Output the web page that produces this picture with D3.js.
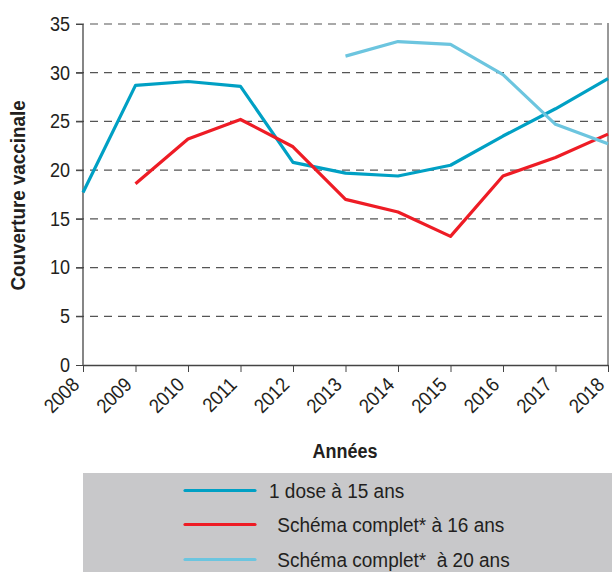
<!DOCTYPE html>
<html>
  <head>
    <meta charset="utf-8">
    <script src="https://d3js.org/d3.v7.min.js"></script>
    <style>
      body { margin: 0; background: #fff; }
      text { font-family: "Liberation Sans", Arial, sans-serif; fill: #231f20; }
    </style>
  </head>
  <body>
    <div id="chart"></div>
  <script>
    var width = 612,
        height = 572;

    var years = [2008, 2009, 2010, 2011, 2012, 2013, 2014, 2015, 2016, 2017, 2018];
    var yTicks = [0, 5, 10, 15, 20, 25, 30, 35];

    // null = pas de donnée
    var dose15 = [17.7, 28.7, 29.1, 28.6, 20.8, 19.7, 19.4, 20.5, 23.5, 26.3, 29.4];
    var complet16 = [null, 18.6, 23.2, 25.2, 22.4, 17.0, 15.7, 13.2, 19.4, 21.3, 23.7];
    var complet20 = [null, null, null, null, null, 31.7, 33.2, 32.9, 29.8, 24.7, 22.7];

    var seriesNames = ["1 dose à 15 ans", " Schéma complet* à 16 ans", " Schéma complet*  à 20 ans"];
    var seriesColors = ["#00a0c4", "#ee1c25", "#6cc5df"];
    var seriesValues = [dose15, complet16, complet20];

    var margin = {left: 83, right: 4, top: 24, bottom: 207};

    var svg = d3.select("#chart").append("svg")
        .attr("width", width)
        .attr("height", height);

    var x = d3.scaleLinear()
        .domain([2008, 2018])
        .range([margin.left, width - margin.right]);

    var y = d3.scaleLinear()
        .domain([0, 35])
        .range([height - margin.bottom, margin.top]);

    // squeeze text a bit to look like the condensed face of the original
    function condense(sel, f) {
      sel.each(function() {
        var len = this.getComputedTextLength();
        d3.select(this).attr("textLength", len * f).attr("lengthAdjust", "spacingAndGlyphs");
      });
    }

    // grid
    svg.append("g")
      .selectAll("line")
      .data(yTicks.filter(function(d) { return d > 0; }))
      .enter()
      .append("line")
        .attr("x1", margin.left - 7)
        .attr("x2", width - margin.right)
        .attr("y1", function(d) { return y(d); })
        .attr("y2", function(d) { return y(d); })
        .attr("stroke", "#555")
        .attr("stroke-width", 1.2)
        .attr("stroke-dasharray", "8,6");

    // right border
    svg.append("line")
        .attr("x1", x(2018)).attr("x2", x(2018))
        .attr("y1", y(35) - 1).attr("y2", y(0))
        .attr("stroke", "#333")
        .attr("stroke-width", 1);

    // y axis
    var yAxis = svg.append("g")
        .attr("transform", "translate(" + margin.left + ",0)")
        .call(d3.axisLeft(y).tickValues(yTicks).tickSize(7).tickPadding(6));
    yAxis.select(".domain").attr("stroke", "#444").attr("stroke-width", 1.3).attr("d", "M0," + y(35) + "V" + y(0));
    yAxis.selectAll(".tick line").attr("stroke", "#444");
    yAxis.selectAll("text")
        .style("font-size", "20px")
        .attr("fill", "#231f20")
        .call(condense, 0.9);

    // x axis
    var xAxis = svg.append("g")
        .attr("transform", "translate(0," + y(0) + ")")
        .call(d3.axisBottom(x).tickValues(years).tickFormat(d3.format("d")).tickSize(7).tickSizeOuter(0));
    xAxis.select(".domain").attr("stroke", "#444").attr("stroke-width", 1.3);
    xAxis.selectAll(".tick line").attr("stroke", "#444");
    xAxis.selectAll("text")
        .style("font-size", "20px")
        .attr("fill", "#231f20")
        .attr("text-anchor", "end")
        .attr("x", 0)
        .attr("y", 0)
        .attr("dy", 0)
        .attr("transform", "translate(-3,21) rotate(-45)")
        .call(condense, 0.9);

    // lines
    var line = d3.line()
        .defined(function(d) { return d != null; })
        .x(function(d, i) { return x(years[i]); })
        .y(function(d) { return y(d); });

    seriesValues.forEach(function(vals, k) {
      svg.append("path")
          .datum(vals)
          .attr("fill", "none")
          .attr("stroke", seriesColors[k])
          .attr("stroke-width", 3.2)
          .attr("stroke-linejoin", "round")
          .attr("d", line);
    });

    // axis titles
    svg.append("text")
        .attr("transform", "translate(25," + ((y(0) + y(35)) / 2 + 1) + ") rotate(-90)")
        .attr("text-anchor", "middle")
        .style("font-size", "20px")
        .style("font-weight", "bold")
        .text("Couverture vaccinale")
        .call(condense, 0.94);

    svg.append("text")
        .attr("x", 345)
        .attr("y", 458)
        .attr("text-anchor", "middle")
        .style("font-size", "20px")
        .style("font-weight", "bold")
        .text("Années")
        .call(condense, 0.9);

    // legend
    svg.append("rect")
        .attr("x", 83)
        .attr("y", 473)
        .attr("width", width - 83)
        .attr("height", height - 473)
        .attr("fill", "#c8c8ca");

    var legendY = [490.5, 524.5, 559.5];
    var legendTextX = [269, 272, 272];
    var legend = svg.append("g")
      .selectAll("g")
      .data(seriesNames)
      .enter()
      .append("g");

    legend.append("line")
        .attr("x1", 185).attr("x2", 255)
        .attr("y1", function(d, i) { return legendY[i]; })
        .attr("y2", function(d, i) { return legendY[i]; })
        .attr("stroke", function(d, i) { return seriesColors[i]; })
        .attr("stroke-width", 3.2)
        .attr("stroke-linecap", "round");

    legend.append("text")
        .attr("x", function(d, i) { return legendTextX[i]; })
        .attr("y", function(d, i) { return legendY[i] + 7; })
        .attr("xml:space", "preserve")
        .style("white-space", "pre")
        .style("font-size", "20px")
        .text(function(d) { return d; })
        .call(condense, 0.95);
  </script>
  </body>
</html>
